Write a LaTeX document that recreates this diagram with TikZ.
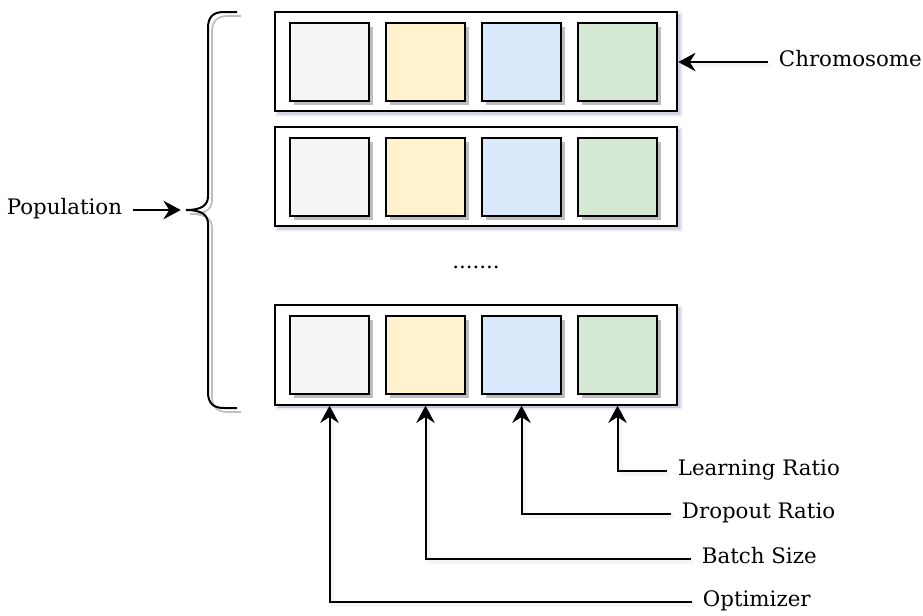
\documentclass[tikz,border=0pt]{standalone}
\usepackage{fontspec}
\setmainfont{DejaVu Serif}
\usetikzlibrary{arrows.meta,calc}

\definecolor{shc}{RGB}{95,105,150}
\definecolor{sqgray}{RGB}{245,245,245}
\definecolor{sqyellow}{RGB}{255,242,204}
\definecolor{sqblue}{RGB}{218,232,252}
\definecolor{sqgreen}{RGB}{213,232,212}
\definecolor{sqshadow}{RGB}{190,190,190}

\tikzset{
  softshadow/.style={
    preaction={fill=shc, draw=shc, line width=4.5pt, opacity=0.05, transform canvas={shift={(3,3)}}},
    preaction={fill=shc, draw=shc, line width=2.5pt, opacity=0.08, transform canvas={shift={(3,3)}}},
    preaction={fill=shc, draw=shc, line width=1pt, opacity=0.12, transform canvas={shift={(3,3)}}}},
  rowbox/.style={draw=black, line width=1.5pt, fill=white, softshadow,
    minimum width=302pt, minimum height=74.5pt, inner sep=0pt},
  gene/.style={draw=black, line width=1.5pt, minimum width=59pt, minimum height=58.5pt,
    inner sep=0pt, preaction={fill=sqshadow, transform canvas={shift={(4,4)}}}},
  lbl/.style={font=\fontsize{16}{19}\selectfont, inner xsep=8pt, inner ysep=0pt,
    text height=0.9em, text depth=0.18em},
  tipstyle/.tip={Stealth[length=13pt,width=14pt,inset=4.5pt,fill=black,line width=0.5pt]},
  conn/.style={line width=1.5pt, -tipstyle},
  connshadow/.style={draw=shc, line width=3pt, opacity=0.06, transform canvas={shift={(3,3)}}},
  bracepath/.style={line width=1.5pt, preaction={draw=sqshadow, line width=1.3pt, transform canvas={shift={(4,4)}}}}
}

\begin{document}
\begin{tikzpicture}[x=0.75pt,y=-0.75pt]
\useasboundingbox (0,0) rectangle (923,615);

% three chromosome rows
\foreach \r/\yc in {1/61.5, 2/176.5, 3/355}{
  \node[rowbox] (row\r) at (476,\yc) {};
  \node[gene, fill=sqgray]   (s\r1) at (329.5,\yc) {};
  \node[gene, fill=sqyellow] (s\r2) at (425.5,\yc) {};
  \node[gene, fill=sqblue]   (s\r3) at (521.5,\yc) {};
  \node[gene, fill=sqgreen]  (s\r4) at (617.5,\yc) {};
}

% ellipsis between rows
\node[lbl, inner xsep=0pt] (dots) at (476,264) {.......};

% curly brace around the population
\coordinate (btip) at (186,210);
\draw[bracepath] (237,12) -- (224,12) .. controls (213,12) and (208,17) .. (208,28)
  -- (208,196) .. controls (208,205) and (202,210) .. (btip)
  .. controls (202,210) and (208,215) .. (208,224)
  -- (208,392) .. controls (208,403) and (213,408) .. (224,408) -- (237,408);

% labels
\node[lbl, anchor=east] (pop) at (133,210) {Population};
\node[lbl, anchor=west] (chrom) at (768,62) {Chromosome};
\node[lbl, anchor=west] (lr) at (667,471) {Learning Ratio};
\node[lbl, anchor=west] (dr) at (671,514) {Dropout Ratio};
\node[lbl, anchor=west] (bs) at (691,559) {Batch Size};
\node[lbl, anchor=west] (opt) at (692,602) {Optimizer};

% soft shadows under the connectors
\draw[connshadow] (chrom.west) -- (row1.east |- chrom.west);
\draw[connshadow] (lr.west) -| (s34 |- row3.south);
\draw[connshadow] (dr.west) -| (s33 |- row3.south);
\draw[connshadow] (bs.west) -| (s32 |- row3.south);
\draw[connshadow] (opt.west) -| (s31 |- row3.south);

% connectors
\draw[conn, shorten >=4pt] (pop.east) -- (btip);
\draw[conn] (chrom.west) -- (row1.east |- chrom.west);
\draw[conn] (lr.west) -| (s34 |- row3.south);
\draw[conn] (dr.west) -| (s33 |- row3.south);
\draw[conn] (bs.west) -| (s32 |- row3.south);
\draw[conn] (opt.west) -| (s31 |- row3.south);
\end{tikzpicture}
\end{document}
